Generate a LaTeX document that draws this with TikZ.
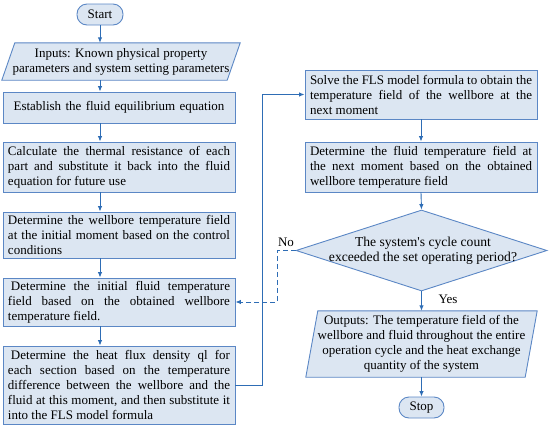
\documentclass[tikz,border=0pt]{standalone}
\usepackage{fontspec}
\setmainfont{Liberation Serif}
\usetikzlibrary{arrows.meta,shapes.geometric,backgrounds}
\definecolor{boxline}{HTML}{5B87C5}
\definecolor{boxfill}{HTML}{DCE6F2}
\definecolor{arr}{HTML}{2E6DB5}
\begin{document}
\begin{tikzpicture}[x=1pt,y=-1pt,
  font=\fontsize{13}{15}\selectfont,
  box/.style={draw=boxline, fill=boxfill, line width=0.9pt, text width=222pt,
    inner xsep=5pt, inner ysep=0pt, align=justify},
  cbox/.style={box, align=center},
  term/.style={draw=boxline, fill=boxfill, line width=0.9pt, rounded corners=10pt,
    minimum width=46pt, minimum height=21pt, inner sep=0pt},
  ptext/.style={inner sep=0pt, align=center},
  pshape/.style={draw=boxline, fill=boxfill, line width=0.9pt},
  dia/.style={diamond, draw=boxline, fill=boxfill, line width=0.9pt,
    minimum width=251pt, minimum height=81pt, inner sep=0pt},
  flow/.style={draw=arr, line width=0.9pt, -{Latex[length=5.5pt,width=4.5pt]}},
  dashflow/.style={flow, dash pattern=on 5pt off 3pt}
]
\useasboundingbox (0,0) rectangle (550,429);

% left column
\node[term] (start) at (100,14.5) {Start};
\node[ptext, minimum width=225pt, minimum height=37pt] (inp) at (121,61.5)
  {Inputs: Known physical property\\parameters and system setting parameters};
\node[cbox, minimum height=31pt] (est) at (119,107.5) {Establish the fluid equilibrium equation};
\node[box, minimum height=50pt] (calc) at (119,167)
  {Calculate the thermal resistance of each\linebreak part and substitute it back into the fluid\linebreak equation for future use};
\node[box, minimum height=46pt] (well) at (119,235)
  {Determine the wellbore temperature field\linebreak at the initial moment based on the control\linebreak conditions};
\node[box, minimum height=48pt] (init) at (119,302)
  {\hspace*{3pt}Determine the initial fluid temperature\linebreak field based on the obtained wellbore\linebreak temperature field.};
\node[box, minimum height=78pt] (heat) at (119,385)
  {\hspace*{3pt}Determine the heat flux density ql for\linebreak each section based on the temperature\linebreak difference between the wellbore and the\linebreak fluid at this moment, and then substitute it\linebreak into the FLS model formula};

% right column
\node[box, minimum height=49pt] (solve) at (421,94.5)
  {Solve the FLS model formula to obtain the\linebreak temperature field of the wellbore at the\linebreak next moment};
\node[box, minimum height=50pt] (fnext) at (421,167)
  {Determine the fluid temperature field at\linebreak the next moment based on the obtained\linebreak wellbore temperature field};
\node[dia] (dec) at (421.5,250.5) {};
\node[ptext, font=\fontsize{13.6}{15}\selectfont] (dectext) at (423,250.5)
  {The system\textquotesingle s cycle count\\exceeded the set operating period?};
\node[ptext, minimum width=219pt, minimum height=66pt] (out) at (421.5,344)
  {Outputs: The temperature field of the\\wellbore and fluid throughout the entire\\operation cycle and the heat exchange\\quantity of the system};
\node[term, minimum width=45pt] (stop) at (421.5,407.5) {Stop};

% parallelogram outlines
\begin{scope}[on background layer]
  \draw[pshape] ([xshift=-6.5pt]inp.south west) -- ([xshift=6.5pt]inp.north west)
    -- ([xshift=6.5pt]inp.north east) -- ([xshift=-6.5pt]inp.south east) -- cycle;
  \draw[pshape] ([xshift=-6pt]out.south west) -- ([xshift=6pt]out.north west)
    -- ([xshift=6pt]out.north east) -- ([xshift=-6pt]out.south east) -- cycle;
\end{scope}

% labels
\node (no) at (286,242) {No};
\node (yes) at (448,299) {Yes};

% connectors
\draw[flow] (start.south) -- (start.south |- inp.north);
\draw[flow] (start.south |- inp.south) -- (start.south |- est.north);
\draw[flow] (start.south |- est.south) -- (start.south |- calc.north);
\draw[flow] (start.south |- calc.south) -- (start.south |- well.north);
\draw[flow] (start.south |- well.south) -- (start.south |- init.north);
\draw[flow] (start.south |- init.south) -- (start.south |- heat.north);

\coordinate (loopx) at (262,0);
\draw[flow] (heat.east) -- (heat.east -| loopx) -- (loopx |- solve.west) -- (solve.west);

\draw[flow] (solve.south) -- (fnext.north);
\draw[flow] (fnext.south) -- (dec.north);
\draw[flow] (dec.south) -- (out.north);
\draw[flow] (out.south) -- (stop.north);

\coordinate (dashx) at (277,0);
\draw[dashflow] (dec.west) -- (dec.west -| dashx) -- (dashx |- init.east) -- (init.east);
\end{tikzpicture}
\end{document}
